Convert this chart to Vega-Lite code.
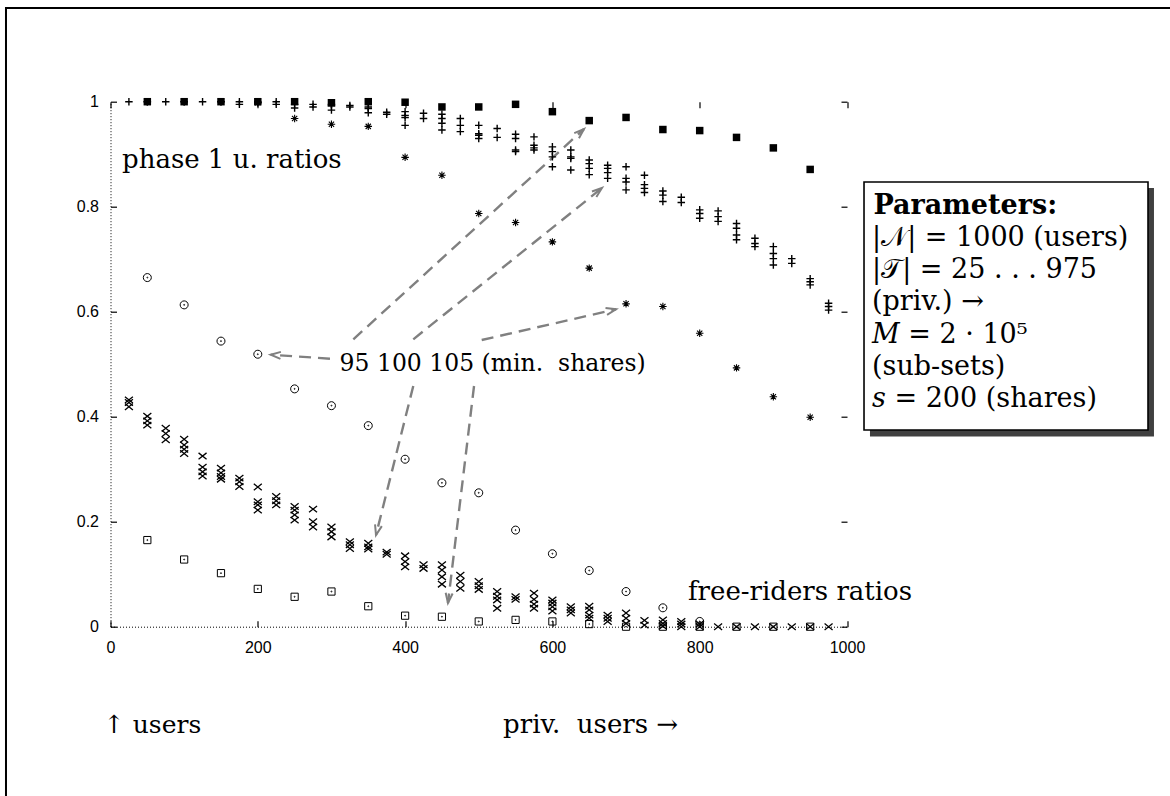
{
  "$schema": "https://vega.github.io/schema/vega-lite/v6.json",
  "width": 736.5,
  "height": 525,
  "autosize": {"type": "none"},
  "padding": {"left": 110.5, "top": 101.7, "right": 323, "bottom": 169.3},
  "background": "white",
  "config": {"view": {"stroke": null}},
  "datasets": {
    "phase1_95": [
      {"priv": 50, "ratio": 1}, {"priv": 100, "ratio": 1}, {"priv": 150, "ratio": 1}, {"priv": 200, "ratio": 1},
      {"priv": 250, "ratio": 1}, {"priv": 300, "ratio": 0.998}, {"priv": 350, "ratio": 1}, {"priv": 400, "ratio": 0.999},
      {"priv": 450, "ratio": 0.99}, {"priv": 500, "ratio": 0.99}, {"priv": 550, "ratio": 0.995}, {"priv": 600, "ratio": 0.981},
      {"priv": 650, "ratio": 0.964}, {"priv": 700, "ratio": 0.97}, {"priv": 750, "ratio": 0.947}, {"priv": 800, "ratio": 0.945},
      {"priv": 850, "ratio": 0.932}, {"priv": 900, "ratio": 0.912}, {"priv": 950, "ratio": 0.871}
    ],
    "phase1_100": [
      {"priv": 25, "ratio": 1}, {"priv": 50, "ratio": 1}, {"priv": 75, "ratio": 1}, {"priv": 100, "ratio": 1},
      {"priv": 125, "ratio": 1}, {"priv": 150, "ratio": 1}, {"priv": 175, "ratio": 1}, {"priv": 175, "ratio": 0.995},
      {"priv": 200, "ratio": 1}, {"priv": 200, "ratio": 0.998}, {"priv": 225, "ratio": 1}, {"priv": 225, "ratio": 0.995},
      {"priv": 250, "ratio": 0.995}, {"priv": 250, "ratio": 0.988}, {"priv": 275, "ratio": 0.995}, {"priv": 275, "ratio": 0.99},
      {"priv": 300, "ratio": 0.995}, {"priv": 300, "ratio": 0.992}, {"priv": 300, "ratio": 0.984},
      {"priv": 325, "ratio": 0.993}, {"priv": 325, "ratio": 0.99},
      {"priv": 350, "ratio": 0.99}, {"priv": 350, "ratio": 0.987}, {"priv": 350, "ratio": 0.979},
      {"priv": 375, "ratio": 0.98}, {"priv": 375, "ratio": 0.976},
      {"priv": 400, "ratio": 0.981}, {"priv": 400, "ratio": 0.974}, {"priv": 400, "ratio": 0.97}, {"priv": 400, "ratio": 0.955},
      {"priv": 425, "ratio": 0.978}, {"priv": 425, "ratio": 0.968},
      {"priv": 450, "ratio": 0.976}, {"priv": 450, "ratio": 0.968}, {"priv": 450, "ratio": 0.959}, {"priv": 450, "ratio": 0.946},
      {"priv": 475, "ratio": 0.968}, {"priv": 475, "ratio": 0.955}, {"priv": 475, "ratio": 0.943},
      {"priv": 500, "ratio": 0.955}, {"priv": 500, "ratio": 0.939}, {"priv": 500, "ratio": 0.936}, {"priv": 500, "ratio": 0.93},
      {"priv": 525, "ratio": 0.949}, {"priv": 525, "ratio": 0.932},
      {"priv": 550, "ratio": 0.938}, {"priv": 550, "ratio": 0.93}, {"priv": 550, "ratio": 0.908}, {"priv": 550, "ratio": 0.905},
      {"priv": 575, "ratio": 0.933}, {"priv": 575, "ratio": 0.917}, {"priv": 575, "ratio": 0.912}, {"priv": 575, "ratio": 0.908},
      {"priv": 600, "ratio": 0.914}, {"priv": 600, "ratio": 0.905}, {"priv": 600, "ratio": 0.895}, {"priv": 600, "ratio": 0.876},
      {"priv": 625, "ratio": 0.908}, {"priv": 625, "ratio": 0.895}, {"priv": 625, "ratio": 0.892}, {"priv": 625, "ratio": 0.87},
      {"priv": 650, "ratio": 0.889}, {"priv": 650, "ratio": 0.882}, {"priv": 650, "ratio": 0.873}, {"priv": 650, "ratio": 0.861},
      {"priv": 675, "ratio": 0.879}, {"priv": 675, "ratio": 0.873}, {"priv": 675, "ratio": 0.865}, {"priv": 675, "ratio": 0.854},
      {"priv": 700, "ratio": 0.876}, {"priv": 700, "ratio": 0.854}, {"priv": 700, "ratio": 0.847}, {"priv": 700, "ratio": 0.832},
      {"priv": 725, "ratio": 0.86}, {"priv": 725, "ratio": 0.842}, {"priv": 725, "ratio": 0.835}, {"priv": 725, "ratio": 0.827},
      {"priv": 750, "ratio": 0.83}, {"priv": 750, "ratio": 0.822}, {"priv": 750, "ratio": 0.81},
      {"priv": 775, "ratio": 0.818}, {"priv": 775, "ratio": 0.808},
      {"priv": 800, "ratio": 0.794}, {"priv": 800, "ratio": 0.787}, {"priv": 800, "ratio": 0.778},
      {"priv": 825, "ratio": 0.792}, {"priv": 825, "ratio": 0.781}, {"priv": 825, "ratio": 0.772},
      {"priv": 850, "ratio": 0.768}, {"priv": 850, "ratio": 0.759}, {"priv": 850, "ratio": 0.746}, {"priv": 850, "ratio": 0.737},
      {"priv": 875, "ratio": 0.74}, {"priv": 875, "ratio": 0.73}, {"priv": 875, "ratio": 0.724},
      {"priv": 900, "ratio": 0.724}, {"priv": 900, "ratio": 0.711}, {"priv": 900, "ratio": 0.701}, {"priv": 900, "ratio": 0.689},
      {"priv": 925, "ratio": 0.701}, {"priv": 925, "ratio": 0.692},
      {"priv": 950, "ratio": 0.663}, {"priv": 950, "ratio": 0.657}, {"priv": 950, "ratio": 0.651},
      {"priv": 975, "ratio": 0.616}, {"priv": 975, "ratio": 0.61}, {"priv": 975, "ratio": 0.603}
    ],
    "phase1_105": [
      {"priv": 50, "ratio": 1}, {"priv": 100, "ratio": 1}, {"priv": 150, "ratio": 1}, {"priv": 200, "ratio": 0.998},
      {"priv": 250, "ratio": 0.968}, {"priv": 300, "ratio": 0.957}, {"priv": 350, "ratio": 0.953}, {"priv": 400, "ratio": 0.894},
      {"priv": 450, "ratio": 0.86}, {"priv": 500, "ratio": 0.787}, {"priv": 550, "ratio": 0.77}, {"priv": 600, "ratio": 0.733},
      {"priv": 650, "ratio": 0.683}, {"priv": 700, "ratio": 0.615}, {"priv": 750, "ratio": 0.61}, {"priv": 800, "ratio": 0.559},
      {"priv": 850, "ratio": 0.493}, {"priv": 900, "ratio": 0.438}, {"priv": 950, "ratio": 0.399}
    ],
    "free_95": [
      {"priv": 50, "ratio": 0.665}, {"priv": 100, "ratio": 0.613}, {"priv": 150, "ratio": 0.544}, {"priv": 200, "ratio": 0.519},
      {"priv": 250, "ratio": 0.453}, {"priv": 300, "ratio": 0.421}, {"priv": 350, "ratio": 0.383}, {"priv": 400, "ratio": 0.319},
      {"priv": 450, "ratio": 0.274}, {"priv": 500, "ratio": 0.255}, {"priv": 550, "ratio": 0.184}, {"priv": 600, "ratio": 0.139},
      {"priv": 650, "ratio": 0.107}, {"priv": 700, "ratio": 0.067}, {"priv": 750, "ratio": 0.036}, {"priv": 800, "ratio": 0.01}
    ],
    "free_100": [
      {"priv": 25, "ratio": 0.432}, {"priv": 25, "ratio": 0.427}, {"priv": 25, "ratio": 0.419},
      {"priv": 50, "ratio": 0.401}, {"priv": 50, "ratio": 0.392}, {"priv": 50, "ratio": 0.384},
      {"priv": 75, "ratio": 0.378}, {"priv": 75, "ratio": 0.368}, {"priv": 75, "ratio": 0.356},
      {"priv": 100, "ratio": 0.357}, {"priv": 100, "ratio": 0.346}, {"priv": 100, "ratio": 0.338}, {"priv": 100, "ratio": 0.33},
      {"priv": 125, "ratio": 0.325}, {"priv": 125, "ratio": 0.304}, {"priv": 125, "ratio": 0.295}, {"priv": 125, "ratio": 0.287},
      {"priv": 150, "ratio": 0.302}, {"priv": 150, "ratio": 0.293}, {"priv": 150, "ratio": 0.286}, {"priv": 150, "ratio": 0.281},
      {"priv": 175, "ratio": 0.283}, {"priv": 175, "ratio": 0.276}, {"priv": 175, "ratio": 0.267},
      {"priv": 200, "ratio": 0.266}, {"priv": 200, "ratio": 0.238}, {"priv": 200, "ratio": 0.232}, {"priv": 200, "ratio": 0.222},
      {"priv": 225, "ratio": 0.248}, {"priv": 225, "ratio": 0.24}, {"priv": 225, "ratio": 0.232},
      {"priv": 250, "ratio": 0.229}, {"priv": 250, "ratio": 0.222}, {"priv": 250, "ratio": 0.213}, {"priv": 250, "ratio": 0.203},
      {"priv": 275, "ratio": 0.224}, {"priv": 275, "ratio": 0.2}, {"priv": 275, "ratio": 0.19},
      {"priv": 300, "ratio": 0.19}, {"priv": 300, "ratio": 0.181}, {"priv": 300, "ratio": 0.171},
      {"priv": 325, "ratio": 0.162}, {"priv": 325, "ratio": 0.156}, {"priv": 325, "ratio": 0.149},
      {"priv": 350, "ratio": 0.159}, {"priv": 350, "ratio": 0.152}, {"priv": 350, "ratio": 0.148},
      {"priv": 375, "ratio": 0.142}, {"priv": 375, "ratio": 0.138},
      {"priv": 400, "ratio": 0.135}, {"priv": 400, "ratio": 0.124}, {"priv": 400, "ratio": 0.114},
      {"priv": 425, "ratio": 0.118}, {"priv": 425, "ratio": 0.111},
      {"priv": 450, "ratio": 0.118}, {"priv": 450, "ratio": 0.108}, {"priv": 450, "ratio": 0.095}, {"priv": 450, "ratio": 0.081},
      {"priv": 475, "ratio": 0.098}, {"priv": 475, "ratio": 0.086}, {"priv": 475, "ratio": 0.073},
      {"priv": 500, "ratio": 0.086}, {"priv": 500, "ratio": 0.078}, {"priv": 500, "ratio": 0.071},
      {"priv": 525, "ratio": 0.067}, {"priv": 525, "ratio": 0.058}, {"priv": 525, "ratio": 0.051}, {"priv": 525, "ratio": 0.035},
      {"priv": 550, "ratio": 0.057}, {"priv": 550, "ratio": 0.052},
      {"priv": 575, "ratio": 0.064}, {"priv": 575, "ratio": 0.052}, {"priv": 575, "ratio": 0.043}, {"priv": 575, "ratio": 0.035},
      {"priv": 600, "ratio": 0.051}, {"priv": 600, "ratio": 0.045}, {"priv": 600, "ratio": 0.038}, {"priv": 600, "ratio": 0.03},
      {"priv": 625, "ratio": 0.038}, {"priv": 625, "ratio": 0.032}, {"priv": 625, "ratio": 0.026},
      {"priv": 650, "ratio": 0.039}, {"priv": 650, "ratio": 0.032}, {"priv": 650, "ratio": 0.022}, {"priv": 650, "ratio": 0.016},
      {"priv": 675, "ratio": 0.022}, {"priv": 675, "ratio": 0.016}, {"priv": 675, "ratio": 0.01},
      {"priv": 700, "ratio": 0.026}, {"priv": 700, "ratio": 0.016}, {"priv": 700, "ratio": 0.006},
      {"priv": 725, "ratio": 0.012}, {"priv": 725, "ratio": 0.003},
      {"priv": 750, "ratio": 0.013}, {"priv": 750, "ratio": 0.006}, {"priv": 750, "ratio": 0.001},
      {"priv": 775, "ratio": 0.01}, {"priv": 775, "ratio": 0.005}, {"priv": 775, "ratio": 0},
      {"priv": 800, "ratio": 0.005}, {"priv": 800, "ratio": 0},
      {"priv": 825, "ratio": 0}, {"priv": 850, "ratio": 0}, {"priv": 875, "ratio": 0}, {"priv": 900, "ratio": 0},
      {"priv": 925, "ratio": 0}, {"priv": 950, "ratio": 0}, {"priv": 975, "ratio": 0}
    ],
    "free_105": [
      {"priv": 50, "ratio": 0.165}, {"priv": 100, "ratio": 0.128}, {"priv": 150, "ratio": 0.102}, {"priv": 200, "ratio": 0.072},
      {"priv": 250, "ratio": 0.057}, {"priv": 300, "ratio": 0.067}, {"priv": 350, "ratio": 0.039}, {"priv": 400, "ratio": 0.021},
      {"priv": 450, "ratio": 0.019}, {"priv": 500, "ratio": 0.01}, {"priv": 550, "ratio": 0.013}, {"priv": 600, "ratio": 0.01},
      {"priv": 650, "ratio": 0.005}, {"priv": 700, "ratio": 0}, {"priv": 750, "ratio": 0}, {"priv": 800, "ratio": 0},
      {"priv": 850, "ratio": 0}, {"priv": 900, "ratio": 0}, {"priv": 950, "ratio": 0}
    ],
    "arrows": [
      {"from_priv": 298.0, "from_ratio": 0.5105, "to_priv": 217.5, "to_ratio": 0.5181},
      {"from_priv": 329.7, "from_ratio": 0.5474, "to_priv": 642.9, "to_ratio": 0.948},
      {"from_priv": 411.1, "from_ratio": 0.5474, "to_priv": 667.3, "to_ratio": 0.8356},
      {"from_priv": 504.0, "from_ratio": 0.5461, "to_priv": 686.4, "to_ratio": 0.6046},
      {"from_priv": 411.1, "from_ratio": 0.4585, "to_priv": 360.5, "to_ratio": 0.1747},
      {"from_priv": 493.6, "from_ratio": 0.4585, "to_priv": 458.2, "to_ratio": 0.0451}
    ],
    "anchor": [{}]
  },
  "resolve": {"axis": {"x": "independent", "y": "independent"}},
  "layer": [
    {
      "data": {"name": "anchor"},
      "mark": {"type": "rect", "fillOpacity": 0, "stroke": "black", "strokeWidth": 2},
      "encoding": {
        "x": {"datum": -141.9, "axis": null},
        "x2": {"datum": 1460},
        "y": {"datum": 1.1785, "axis": null},
        "y2": {"datum": -0.36}
      }
    },
    {
      "data": {"name": "arrows"},
      "mark": {"type": "rule", "stroke": "#808080", "strokeWidth": 2.4, "strokeDash": [12, 7]},
      "encoding": {
        "x": {"field": "from_priv", "type": "quantitative", "axis": null},
        "y": {"field": "from_ratio", "type": "quantitative", "axis": null},
        "x2": {"field": "to_priv"},
        "y2": {"field": "to_ratio"}
      }
    },
    {
      "data": {"name": "arrows"},
      "mark": {
        "type": "point",
        "shape": "M-1,-0.35L0,0L-1,0.35",
        "size": 400,
        "filled": false,
        "opacity": 1,
        "stroke": "#808080",
        "strokeWidth": 2,
        "angle": {"expr": "atan2((datum.from_ratio - datum.to_ratio) * 525, (datum.to_priv - datum.from_priv) * 0.7365) * 180 / PI"}
      },
      "encoding": {
        "x": {"field": "to_priv", "type": "quantitative", "axis": null},
        "y": {"field": "to_ratio", "type": "quantitative", "axis": null}
      }
    },
    {
      "data": {"name": "free_95"},
      "mark": {"type": "point", "shape": "M1,0A1,1,0,1,1,-1,0A1,1,0,1,1,1,0ZM0.12,0A0.12,0.12,0,1,1,-0.12,0A0.12,0.12,0,1,1,0.12,0Z", "size": 64, "filled": false, "opacity": 1, "stroke": "black", "strokeWidth": 1},
      "encoding": {
        "x": {"field": "priv", "type": "quantitative", "axis": null},
        "y": {"field": "ratio", "type": "quantitative", "axis": null}
      }
    },
    {
      "data": {"name": "free_100"},
      "mark": {"type": "point", "shape": "M-1,-0.8L1,0.8M-1,0.8L1,-0.8", "size": 64, "filled": false, "opacity": 1, "stroke": "black", "strokeWidth": 1.3},
      "encoding": {
        "x": {"field": "priv", "type": "quantitative", "axis": null},
        "y": {"field": "ratio", "type": "quantitative", "axis": null}
      }
    },
    {
      "data": {"name": "free_105"},
      "mark": {"type": "point", "shape": "M-1,-1L1,-1L1,1L-1,1ZM0.14,0A0.14,0.14,0,1,1,-0.14,0A0.14,0.14,0,1,1,0.14,0Z", "size": 52, "filled": false, "opacity": 1, "stroke": "black", "strokeWidth": 1},
      "encoding": {
        "x": {"field": "priv", "type": "quantitative", "axis": null},
        "y": {"field": "ratio", "type": "quantitative", "axis": null}
      }
    },
    {
      "data": {"name": "phase1_100"},
      "mark": {"type": "point", "shape": "M-1,0L1,0M0,-1L0,1", "size": 56, "filled": false, "opacity": 1, "stroke": "black", "strokeWidth": 1.4},
      "encoding": {
        "x": {
          "field": "priv", "type": "quantitative",
          "scale": {"domain": [0, 1000], "nice": false, "zero": false},
          "axis": {
            "orient": "bottom", "title": null, "grid": false,
            "values": [0, 200, 400, 600, 800, 1000], "format": "d",
            "domain": true, "domainColor": "black", "domainWidth": 1, "domainDash": [1, 2],
            "ticks": true, "tickSize": -6, "tickColor": "black", "tickWidth": 1.2,
            "labelFont": "Liberation Sans", "labelFontSize": 16, "labelColor": "black",
            "labelPadding": 19, "labelFlush": false, "labelOverlap": false
          }
        },
        "y": {
          "field": "ratio", "type": "quantitative",
          "scale": {"domain": [0, 1], "nice": false, "zero": false},
          "axis": {
            "orient": "left", "title": null, "grid": false,
            "values": [0, 0.2, 0.4, 0.6, 0.8, 1], "format": "~g",
            "domain": true, "domainColor": "black", "domainWidth": 1, "domainDash": [1, 2],
            "ticks": true, "tickSize": -6, "tickColor": "black", "tickWidth": 1.2,
            "labelFont": "Liberation Sans", "labelFontSize": 16, "labelColor": "black",
            "labelPadding": 18, "labelFlush": false, "labelOverlap": false
          }
        }
      }
    },
    {
      "data": {"name": "phase1_95"},
      "mark": {"type": "point", "shape": "square", "size": 56, "filled": true, "opacity": 1, "color": "black", "strokeWidth": 0},
      "encoding": {
        "x": {
          "field": "priv", "type": "quantitative",
          "axis": {
            "orient": "top", "title": null, "grid": false, "labels": false, "domain": false,
            "values": [0, 200, 400, 600, 800, 1000],
            "ticks": true, "tickSize": -6, "tickColor": "black", "tickWidth": 1.2
          }
        },
        "y": {
          "field": "ratio", "type": "quantitative",
          "axis": {
            "orient": "right", "title": null, "grid": false, "labels": false, "domain": false,
            "values": [0, 0.2, 0.4, 0.6, 0.8, 1],
            "ticks": true, "tickSize": -6, "tickColor": "black", "tickWidth": 1.2
          }
        }
      }
    },
    {
      "data": {"name": "phase1_105"},
      "mark": {"type": "point", "shape": "M-1,0L1,0M0,-1L0,1M-0.7,-0.7L0.7,0.7M-0.7,0.7L0.7,-0.7", "size": 56, "filled": false, "opacity": 1, "stroke": "black", "strokeWidth": 1.1},
      "encoding": {
        "x": {"field": "priv", "type": "quantitative", "axis": null},
        "y": {"field": "ratio", "type": "quantitative", "axis": null}
      }
    },
    {
      "data": {"name": "anchor"},
      "mark": {"type": "text", "font": "DejaVu Serif", "fontSize": 26, "align": "left", "baseline": "alphabetic", "color": "black"},
      "encoding": {
        "x": {"datum": 15.6, "axis": null},
        "y": {"datum": 0.8743, "axis": null},
        "text": {"value": "phase 1 u. ratios"}
      }
    },
    {
      "data": {"name": "anchor"},
      "mark": {"type": "text", "font": "DejaVu Serif", "fontSize": 23.5, "align": "left", "baseline": "alphabetic", "color": "black"},
      "encoding": {
        "x": {"datum": 311, "axis": null},
        "y": {"datum": 0.4876, "axis": null},
        "text": {"value": "95 100 105 (min.\u00a0 shares)"}
      }
    },
    {
      "data": {"name": "anchor"},
      "mark": {"type": "text", "font": "DejaVu Serif", "fontSize": 26, "align": "left", "baseline": "alphabetic", "color": "black"},
      "encoding": {
        "x": {"datum": 784.1, "axis": null},
        "y": {"datum": 0.0509, "axis": null},
        "text": {"value": "free-riders ratios"}
      }
    },
    {
      "data": {"name": "anchor"},
      "mark": {"type": "text", "font": "DejaVu Serif", "fontSize": 25, "align": "left", "baseline": "alphabetic", "color": "black"},
      "encoding": {
        "x": {"datum": -9, "axis": null},
        "y": {"datum": -0.203, "axis": null},
        "text": {"value": "↑ users"}
      }
    },
    {
      "data": {"name": "anchor"},
      "mark": {"type": "text", "font": "DejaVu Serif", "fontSize": 26, "align": "left", "baseline": "alphabetic", "color": "black"},
      "encoding": {
        "x": {"datum": 533, "axis": null},
        "y": {"datum": -0.203, "axis": null},
        "text": {"value": "priv.\u00a0 users →"}
      }
    },
    {
      "data": {"name": "anchor"},
      "mark": {"type": "rect", "fill": "#404040", "strokeWidth": 0},
      "encoding": {
        "x": {"datum": 1031.2, "axis": null},
        "x2": {"datum": 1416.8},
        "y": {"datum": 0.8356, "axis": null},
        "y2": {"datum": 0.3623}
      }
    },
    {
      "data": {"name": "anchor"},
      "mark": {"type": "rect", "fill": "white", "stroke": "black", "strokeWidth": 1.6},
      "encoding": {
        "x": {"datum": 1023.1, "axis": null},
        "x2": {"datum": 1408.7},
        "y": {"datum": 0.847, "axis": null},
        "y2": {"datum": 0.3747}
      }
    },
    {
      "data": {"name": "anchor"},
      "mark": {"type": "text", "font": "DejaVu Serif", "fontSize": 27, "fontWeight": "bold", "align": "left", "baseline": "alphabetic", "color": "black"},
      "encoding": {
        "x": {"datum": 1036, "axis": null},
        "y": {"datum": 0.7861, "axis": null},
        "text": {"value": "Parameters:"}
      }
    },
    {
      "data": {"name": "anchor"},
      "mark": {"type": "text", "font": "DejaVu Serif", "fontSize": 27, "align": "left", "baseline": "alphabetic", "color": "black", "lineHeight": 32.2},
      "encoding": {
        "x": {"datum": 1034, "axis": null},
        "y": {"datum": 0.7251, "axis": null},
        "text": {"value": ["|𝒩| = 1000 (users)", "|𝒯| = 25 . . . 975", "(priv.) →", "𝑀 = 2 · 10⁵", "(sub-sets)", "𝑠 = 200 (shares)"]}
      }
    }
  ]
}
